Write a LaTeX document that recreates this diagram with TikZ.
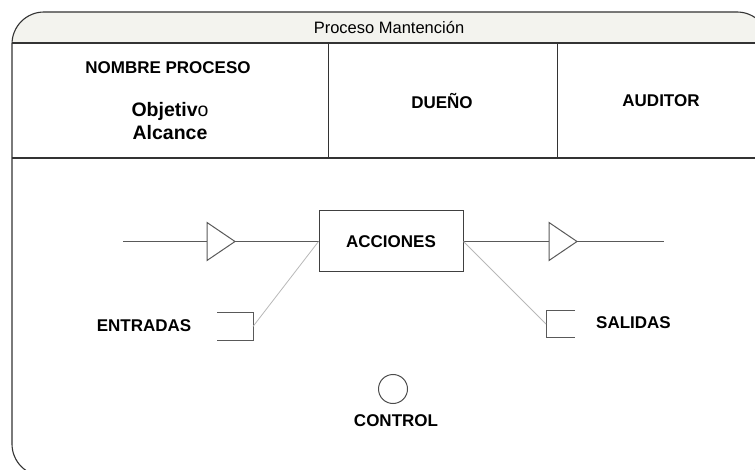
\documentclass[tikz,border=0pt]{standalone}
\usepackage{fontspec}
\setmainfont{Liberation Sans}
\begin{document}
\begin{tikzpicture}[x=1pt,y=-1pt,
  lbl/.style={font=\fontsize{17}{20}\selectfont\bfseries, inner sep=0pt},
  big/.style={font=\fontsize{19.5}{23}\selectfont\bfseries, inner sep=0pt, align=center},
  gline/.style={draw=black!65, line width=1pt},
  thin/.style={draw=black!28, line width=0.8pt},
  frame/.style={draw=black!80, line width=1.1pt}]
\useasboundingbox (0,0) rectangle (755,470);
% frame and header
\begin{scope}
  \clip[rounded corners=32pt] (12,12) rectangle (769,476);
  \fill[fill={rgb,255:red,243;green,243;blue,238}] (0,0) rectangle (800,43);
\end{scope}
\draw[frame, rounded corners=32pt] (12,12) rectangle (769,476);
\draw[frame] (12,43) -- (769,43);
\draw[frame] (12,158) -- (769,158);
\draw[frame, line width=0.9pt] (328,43) -- (328,158);
\draw[frame, line width=0.9pt] (557,43) -- (557,158);
% header texts
\node[inner sep=0pt, font=\fontsize{16.5}{20}\selectfont] (title) at (389,28) {Proceso Mantención};
\node[lbl] (nombre) at (168,68) {NOMBRE PROCESO};
\node[big] (obj) at (170,121) {Objetiv{\mdseries o}\\Alcance};
\node[lbl] (duenio) at (442,101) {DUEÑO};
\node[lbl] (auditor) at (661,101) {AUDITOR};
% process
\node[draw=black!75, line width=1pt, minimum width=144pt, minimum height=61pt, inner sep=0pt,
      font=\fontsize{17}{20}\selectfont\bfseries] (acc) at (391,241.5) {ACCIONES};
\coordinate (in) at (123,241.5);
\coordinate (t1a) at (207,241.5);
\coordinate (t1b) at (235,241.5);
\coordinate (t2a) at (549,241.5);
\coordinate (t2b) at (577,241.5);
\coordinate (out) at (664,241.5);
\draw[gline] (in) -- (t1a);
\draw[gline] (t1a) ++(0,-19) -- (t1b) -- ++(-28,19) -- cycle;
\draw[gline] (t1b) -- (acc.west);
\draw[gline] (acc.east) -- (t2a);
\draw[gline] (t2a) ++(0,-19) -- (t2b) -- ++(-28,19) -- cycle;
\draw[gline] (t2b) -- (out);
% entradas
\coordinate (ebr) at (253,326.5);
\draw[gline] (217,313) -| (253,340) -- (217,340);
\draw[thin] (ebr) -- (acc.west);
\node[lbl] (entradas) at (144,325.5) {ENTRADAS};
% salidas
\coordinate (sbr) at (546,324);
\draw[gline] (575,311) -| (546,337) -- (575,337);
\draw[thin] (acc.east) -- (sbr);
\node[lbl] (salidas) at (633.5,323) {SALIDAS};
% control
\node[draw=black!70, line width=1pt, circle, minimum size=29pt, inner sep=0pt] (ctrl) at (393,389) {};
\node[lbl] (control) at (396,421) {CONTROL};
\end{tikzpicture}
\end{document}
